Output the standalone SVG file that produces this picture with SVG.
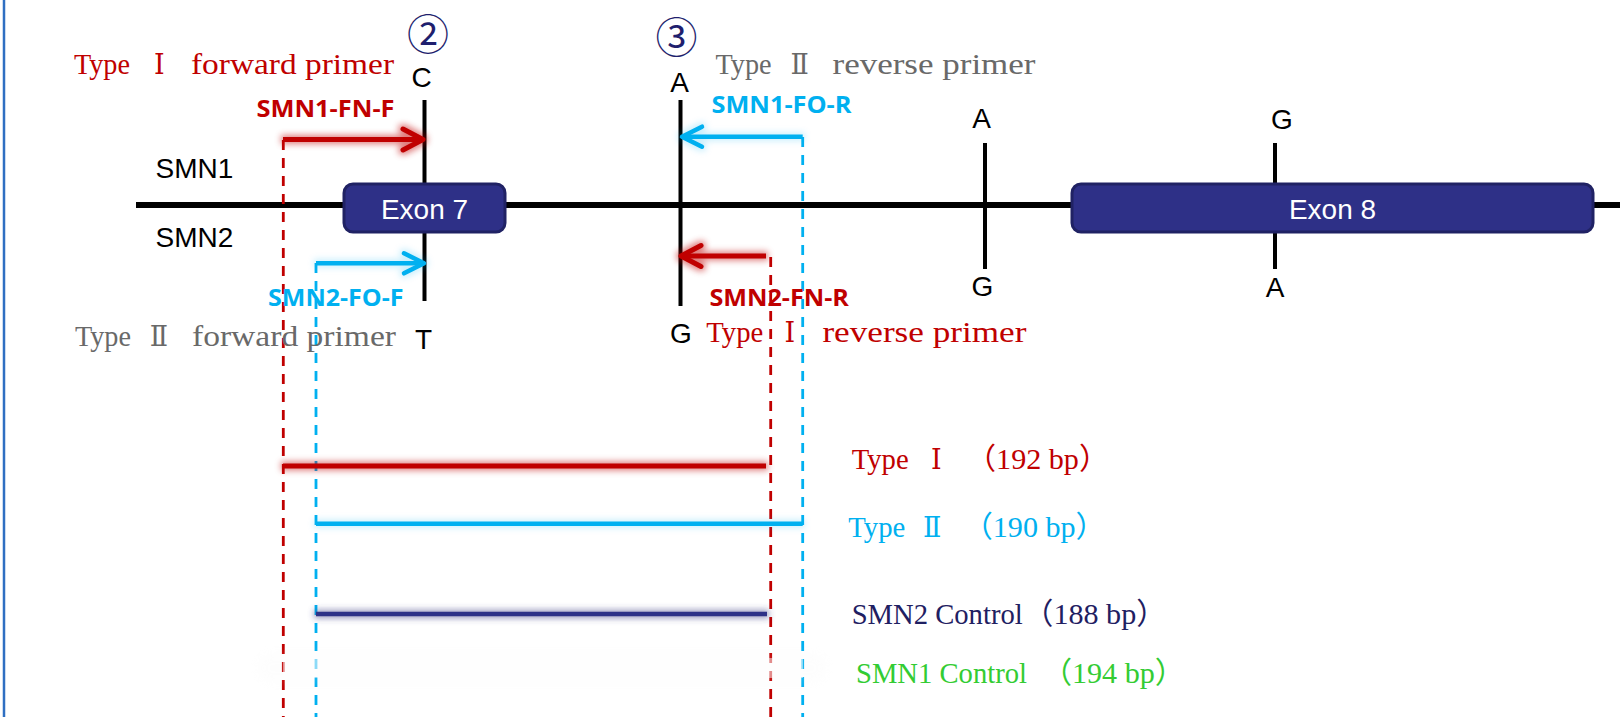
<svg xmlns="http://www.w3.org/2000/svg" width="1620" height="717" viewBox="0 0 1620 717">
  <style>
    .lbl { font-family: "Liberation Sans", Arial, sans-serif; font-size: 28px; fill: #000; text-anchor: middle; }
    .exon rect { fill: #2e3087; stroke: #202264; stroke-width: 3; }
    .exon text { font-family: "Liberation Sans", Arial, sans-serif; font-size: 28px; fill: #fff; text-anchor: middle; }
    .pr { font-family: "Open Sans", "Liberation Sans", sans-serif; font-weight: 700; font-size: 24px; }
    .ser { font-family: "Liberation Serif", "Noto Sans CJK SC", serif; font-size: 30px; }
    .rn { font-family: "DejaVu Serif", "Noto Sans CJK SC", serif; font-size: 27px; text-anchor: middle; }
    .circ { font-family: "Noto Sans CJK SC", sans-serif; font-size: 42px; fill: #1f1f6e; text-anchor: middle; }
    .snp { stroke: #000; stroke-width: 4; fill: none; }
    .dash { stroke-width: 2.8; stroke-dasharray: 10 8; fill: none; }
    .red { fill: #c00000; }
    .cyan { fill: #00b0f0; }
    .gray { fill: #696969; }
    .navy { fill: #1f2062; }
    .green { fill: #33cc33; }
  </style>
  <defs>
    <marker id="headRed" markerUnits="userSpaceOnUse" markerWidth="40" markerHeight="40" viewBox="-30 -20 40 40" refX="0" refY="0" orient="auto">
      <path d="M-20,-10.5 L0,0 L-20,10.5" fill="none" stroke="#c00000" stroke-width="5" stroke-linecap="round" stroke-linejoin="round"/>
    </marker>
    <marker id="headCyan" markerUnits="userSpaceOnUse" markerWidth="40" markerHeight="40" viewBox="-30 -20 40 40" refX="0" refY="0" orient="auto">
      <path d="M-20,-10 L0,0 L-20,10" fill="none" stroke="#00b0f0" stroke-width="4.5" stroke-linecap="round" stroke-linejoin="round"/>
    </marker>
    <filter id="glowRed" filterUnits="userSpaceOnUse" x="0" y="0" width="1620" height="717">
      <feMorphology in="SourceAlpha" operator="dilate" radius="2" result="d"/>
      <feGaussianBlur in="d" stdDeviation="3" result="b"/>
      <feFlood flood-color="#c00000" flood-opacity="0.5"/>
      <feComposite in2="b" operator="in" result="g"/>
      <feMerge><feMergeNode in="g"/><feMergeNode in="SourceGraphic"/></feMerge>
    </filter>
    <filter id="glowCyan" filterUnits="userSpaceOnUse" x="0" y="0" width="1620" height="717">
      <feMorphology in="SourceAlpha" operator="dilate" radius="2" result="d"/>
      <feGaussianBlur in="d" stdDeviation="3" result="b"/>
      <feFlood flood-color="#00b0f0" flood-opacity="0.2"/>
      <feComposite in2="b" operator="in" result="g"/>
      <feMerge><feMergeNode in="g"/><feMergeNode in="SourceGraphic"/></feMerge>
    </filter>
    <filter id="glowNavy" filterUnits="userSpaceOnUse" x="0" y="0" width="1620" height="717">
      <feMorphology in="SourceAlpha" operator="dilate" radius="2" result="d"/>
      <feGaussianBlur in="d" stdDeviation="3" result="b"/>
      <feFlood flood-color="#3a3c80" flood-opacity="0.5"/>
      <feComposite in2="b" operator="in" result="g"/>
      <feMerge><feMergeNode in="g"/><feMergeNode in="SourceGraphic"/></feMerge>
    </filter>
    <filter id="glowFaint" filterUnits="userSpaceOnUse" x="0" y="0" width="1620" height="717">
      <feGaussianBlur in="SourceGraphic" stdDeviation="5"/>
    </filter>
  </defs>

  <rect width="1620" height="717" fill="#fff"/>
  <line x1="4" y1="0" x2="4" y2="717" stroke="#2f6fc2" stroke-width="2.5"/>

  <!-- gene backbone, SNP ticks, primer arrows, amplicon bars -->
  <g id="connectors">
    <path d="M136,205 H1620" stroke="#000" stroke-width="6"/>
    <path class="snp" d="M424.5,100 V301"/>
    <path class="snp" d="M680.5,100 V306"/>
    <path class="snp" d="M985,143 V269"/>
    <path class="snp" d="M1275,143 V269"/>

    <path class="dash" stroke="#c00000" d="M283.3,140 V717"/>
    <path class="dash" stroke="#00b0f0" d="M316,263 V717"/>
    <path class="dash" stroke="#00b0f0" d="M802.7,137 V717"/>
    <path class="dash" stroke="#c00000" d="M770.7,257 V717"/>

    <path d="M283,139.5 H423" stroke="#c00000" stroke-width="5" fill="none" marker-end="url(#headRed)" filter="url(#glowRed)"/>
    <path d="M802.7,136.7 H682" stroke="#00b0f0" stroke-width="4.5" fill="none" marker-end="url(#headCyan)" filter="url(#glowCyan)"/>
    <path d="M316,263.3 H424" stroke="#00b0f0" stroke-width="4.5" fill="none" marker-end="url(#headCyan)" filter="url(#glowCyan)"/>
    <path d="M766,256 H681" stroke="#c00000" stroke-width="5" fill="none" marker-end="url(#headRed)" filter="url(#glowRed)"/>

    <path d="M283,466 H766" stroke="#c00000" stroke-width="5" filter="url(#glowRed)"/>
    <path d="M316,523.7 H802.7" stroke="#00b0f0" stroke-width="4.5" filter="url(#glowCyan)"/>
    <path d="M316,614 H767" stroke="#2e3087" stroke-width="4.5" filter="url(#glowNavy)"/>
    <path d="M272,668 H812" stroke="#f0f0f0" stroke-width="30" stroke-linecap="round" opacity="0.1" filter="url(#glowFaint)"/>
    <path d="M283,668 H803" stroke="#ffffff" stroke-width="20" opacity="0.5"/>
  </g>

  <g id="exon7" class="exon">
    <rect x="344" y="184" width="161" height="48" rx="9"/>
    <text x="424.5" y="219">Exon 7</text>
  </g>
  <g id="exon8" class="exon">
    <rect x="1072" y="184" width="521" height="48" rx="9"/>
    <text x="1332.5" y="219">Exon 8</text>
  </g>

  <g id="gene-labels" class="lbl">
    <text x="155.6" y="178" text-anchor="start">SMN1</text>
    <text x="155.6" y="247" text-anchor="start">SMN2</text>
  </g>

  <g id="snp-bases" class="lbl">
    <text x="421.5" y="87">C</text>
    <text x="423.6" y="349">T</text>
    <text x="679.5" y="92">A</text>
    <text x="681" y="343">G</text>
    <text x="981.5" y="128">A</text>
    <text x="982.5" y="296">G</text>
    <text x="1281.8" y="129">G</text>
    <text x="1275" y="297">A</text>
  </g>

  <g id="site-numbers">
    <text class="circ" x="428" y="50">②</text>
    <text class="circ" x="676.5" y="53">③</text>
  </g>

  <g id="primer-names" class="pr">
    <text class="red" x="256.5" y="116.7" textLength="138" lengthAdjust="spacingAndGlyphs">SMN1-FN-F</text>
    <text class="cyan" x="711.5" y="113.3" textLength="140" lengthAdjust="spacingAndGlyphs">SMN1-FO-R</text>
    <text class="cyan" x="268" y="306" textLength="135.6" lengthAdjust="spacingAndGlyphs">SMN2-FO-F</text>
    <text class="red" x="709.4" y="305.5" textLength="139.5" lengthAdjust="spacingAndGlyphs">SMN2-FN-R</text>
  </g>

  <g id="primer-types" class="ser">
    <text class="red" y="74">
      <tspan x="74" textLength="56" lengthAdjust="spacingAndGlyphs">Type</tspan>
      <tspan class="rn" x="163">Ⅰ</tspan>
      <tspan x="191" textLength="203" lengthAdjust="spacingAndGlyphs">forward primer</tspan>
    </text>
    <text class="gray" y="74">
      <tspan x="715.6" textLength="56" lengthAdjust="spacingAndGlyphs">Type</tspan>
      <tspan class="rn" x="803.5">Ⅱ</tspan>
      <tspan x="832.5" textLength="203" lengthAdjust="spacingAndGlyphs">reverse primer</tspan>
    </text>
    <text class="gray" y="346">
      <tspan x="75" textLength="56" lengthAdjust="spacingAndGlyphs">Type</tspan>
      <tspan class="rn" x="162.7">Ⅱ</tspan>
      <tspan x="192" textLength="204" lengthAdjust="spacingAndGlyphs">forward primer</tspan>
    </text>
    <text class="red" y="341.5">
      <tspan x="706.3" textLength="57" lengthAdjust="spacingAndGlyphs">Type</tspan>
      <tspan class="rn" x="793.5">Ⅰ</tspan>
      <tspan x="822.4" textLength="204" lengthAdjust="spacingAndGlyphs">reverse primer</tspan>
    </text>
  </g>

  <g id="amplicon-legend" class="ser">
    <text class="red" y="469.3">
      <tspan x="851.7" textLength="57" lengthAdjust="spacingAndGlyphs">Type</tspan>
      <tspan class="rn" x="940">Ⅰ</tspan>
      <tspan x="966" textLength="143" lengthAdjust="spacingAndGlyphs">（192 bp）</tspan>
    </text>
    <text class="cyan" y="537.3">
      <tspan x="848.3" textLength="57" lengthAdjust="spacingAndGlyphs">Type</tspan>
      <tspan class="rn" x="936">Ⅱ</tspan>
      <tspan x="962.7" textLength="143" lengthAdjust="spacingAndGlyphs">（190 bp）</tspan>
    </text>
    <text class="navy" y="624">
      <tspan x="851.7" textLength="171" lengthAdjust="spacingAndGlyphs">SMN2 Control</tspan>
      <tspan x="1023.3" textLength="143" lengthAdjust="spacingAndGlyphs">（188 bp）</tspan>
    </text>
    <text class="green" y="683.3">
      <tspan x="856" textLength="171" lengthAdjust="spacingAndGlyphs">SMN1 Control</tspan>
      <tspan x="1041.9" textLength="143" lengthAdjust="spacingAndGlyphs">（194 bp）</tspan>
    </text>
  </g>
</svg>
